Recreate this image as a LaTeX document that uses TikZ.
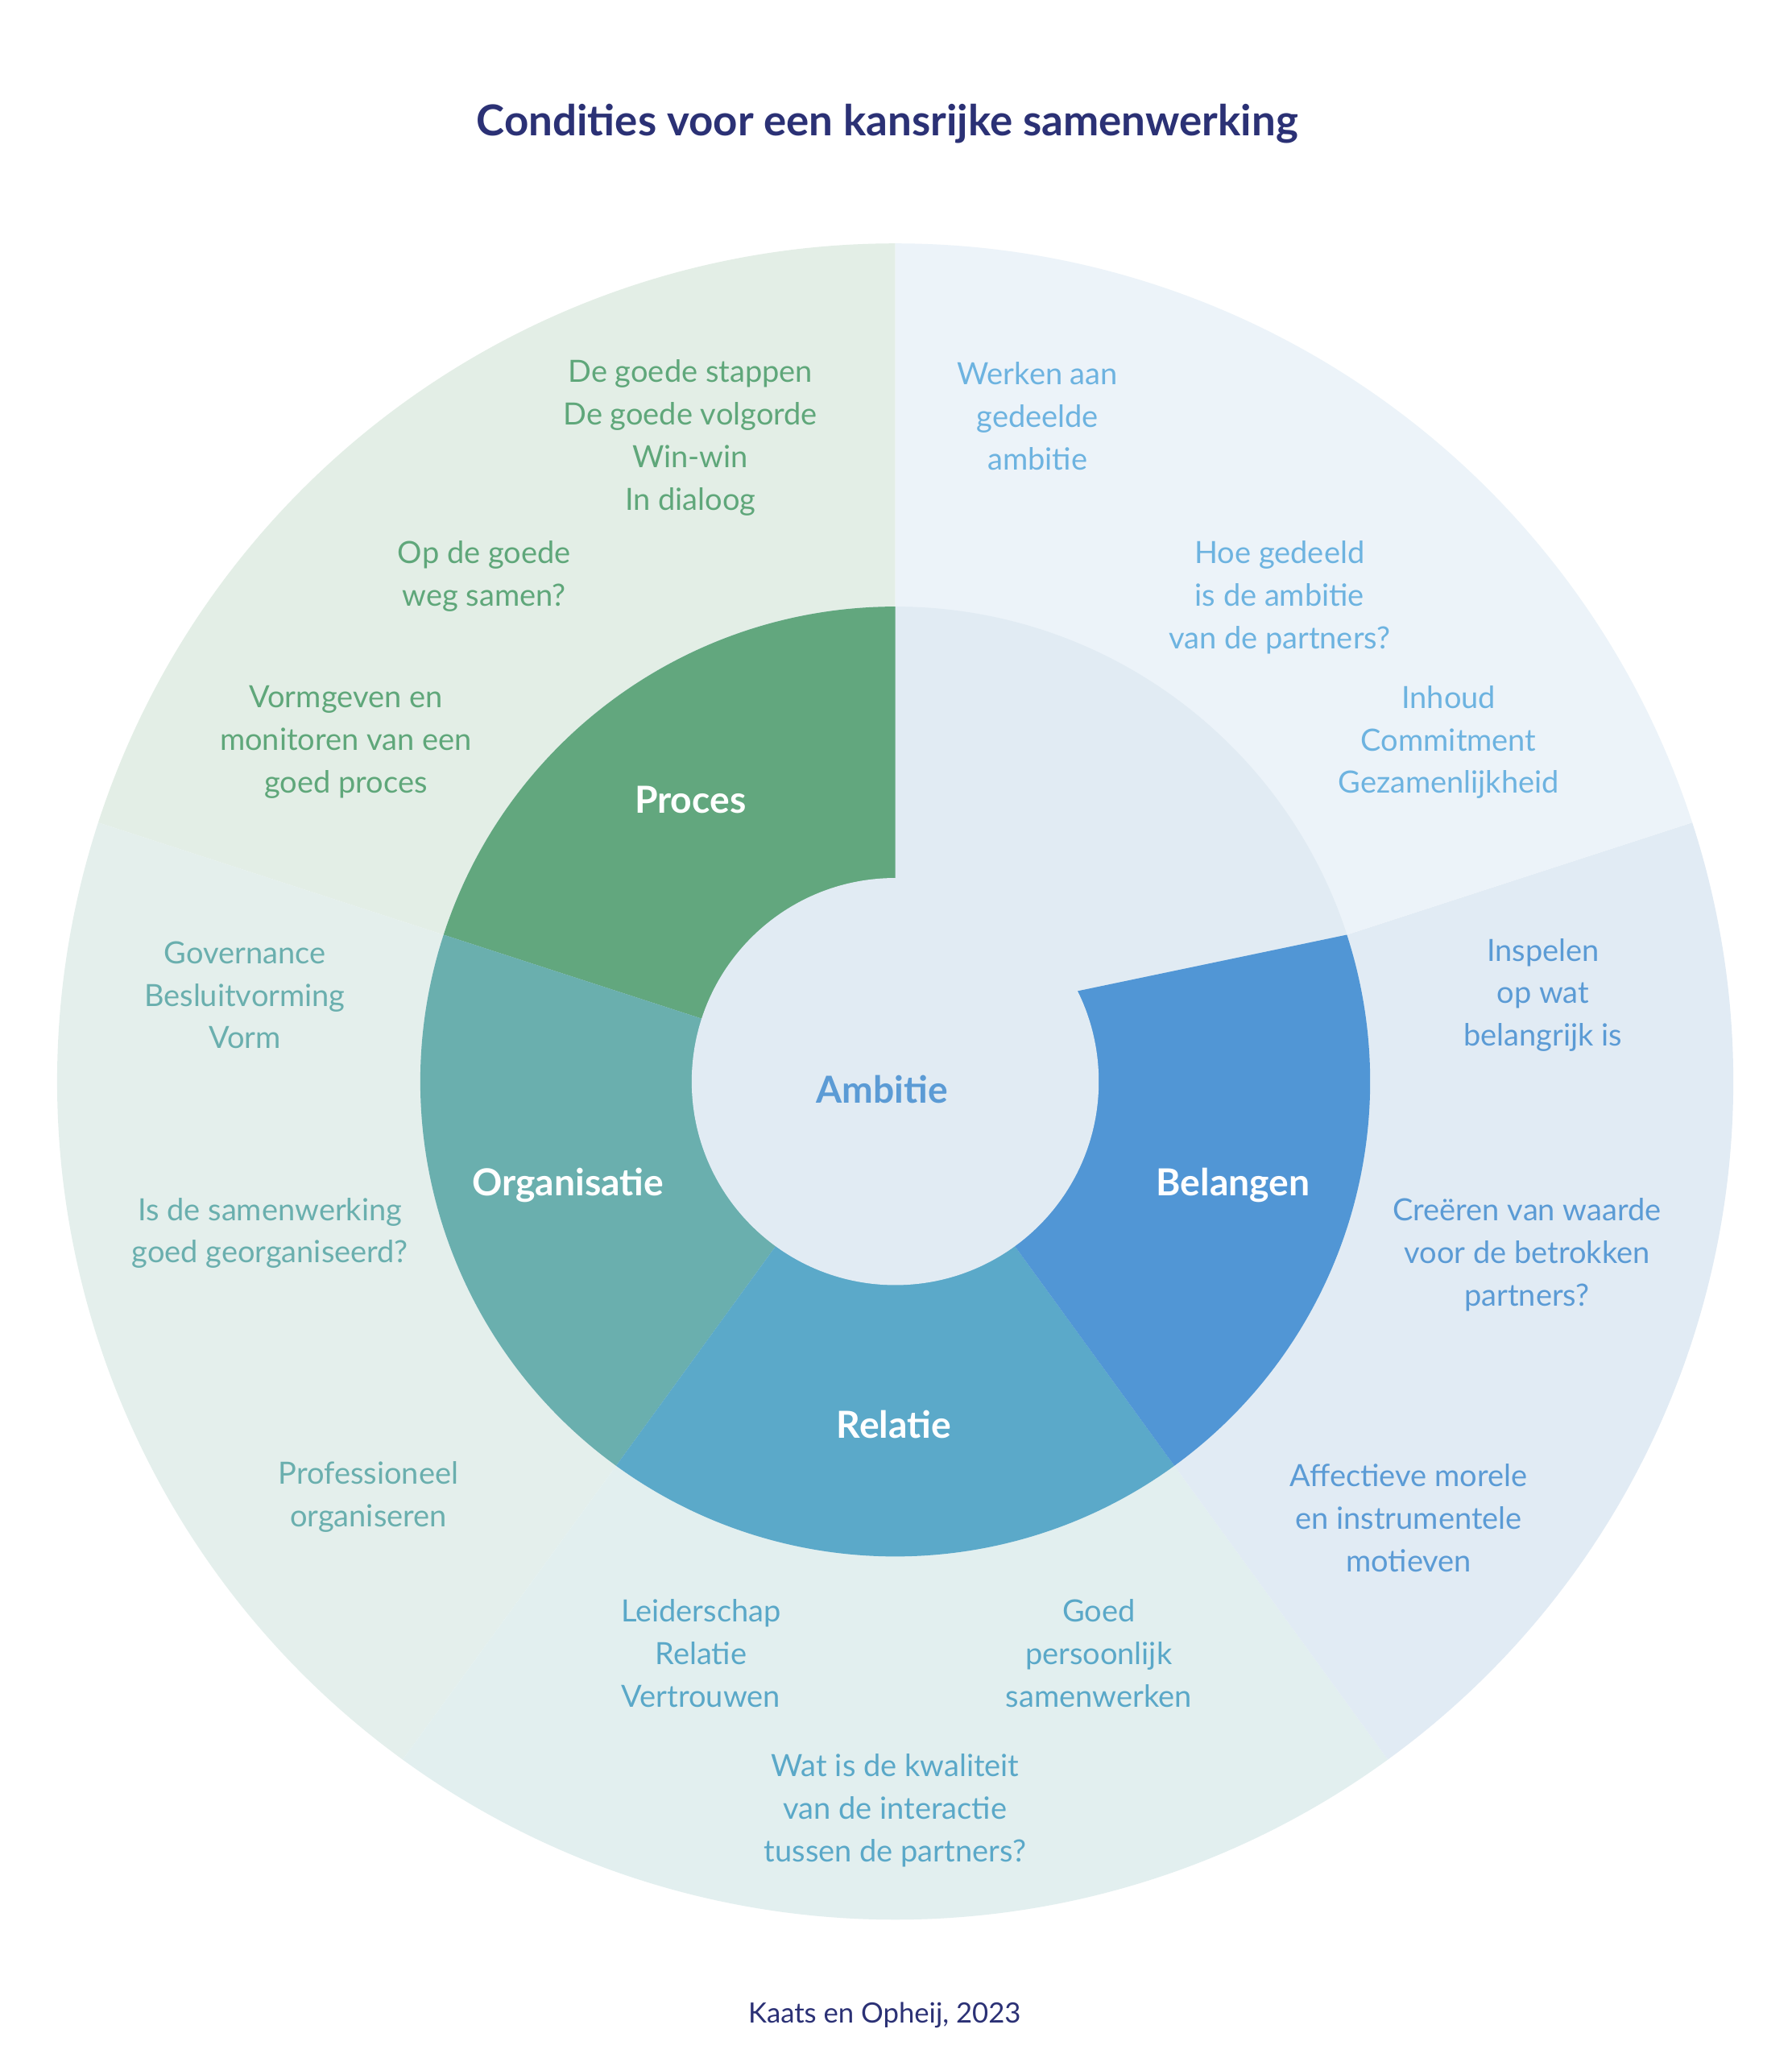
\documentclass[tikz,border=0pt]{standalone}
\usepackage{fontspec}
\setmainfont{Lato}
\definecolor{oP}{HTML}{E3EEE6}\definecolor{oA}{HTML}{ECF3F9}\definecolor{oB}{HTML}{E1EBF4}
\definecolor{oR}{HTML}{E2EFEF}\definecolor{oO}{HTML}{E4EFEC}
\definecolor{iP}{HTML}{62A77E}\definecolor{iO}{HTML}{6AAFAE}\definecolor{iR}{HTML}{5BA9C9}
\definecolor{iB}{HTML}{5196D5}\definecolor{cA}{HTML}{E1EBF3}
\definecolor{tP}{HTML}{5FA77A}\definecolor{tA}{HTML}{6DB3E0}\definecolor{tB}{HTML}{5B9BD5}
\definecolor{tR}{HTML}{5AA8C8}\definecolor{tO}{HTML}{6AAFAE}\definecolor{navy}{HTML}{2B3175}
\begin{document}
\begin{tikzpicture}[x=1pt,y=1pt,
 txt/.style={align=center,font=\fontsize{23}{32}\selectfont},
 lab/.style={font=\fontsize{28}{32}\selectfont\bfseries,text=white}]
\useasboundingbox[fill=white] (0,0) rectangle (1347,1550);
\coordinate (c) at (673,737);
\foreach \a/\col in {90/oP,162/oO,234/oR,306/oB,18/oA}
 \fill[\col] (c) ++(\a:630) arc[start angle=\a,delta angle=72,radius=630] -- (c) -- cycle;
\fill[cA] (c) circle[radius=357];
\foreach \a/\col in {90/iP,162/iO,234/iR}
 \fill[\col] (c) ++(\a:357) arc[start angle=\a,delta angle=72,radius=357] -- (c) -- cycle;
\fill[iB] (c) ++(306:357) arc[start angle=306,end angle=378,radius=357] -- (810,805) -- (c) -- cycle;
\fill[cA] (c) circle[radius=153];
\node[font=\fontsize{32}{36}\selectfont\bfseries,text=navy] (title) at (667,1457) {Condities voor een kansrijke samenwerking};
\node[font=\fontsize{21}{24}\selectfont,text=navy] (credit) at (665,35) {Kaats en Opheij, 2023};
\node[lab] (lp) at (519,949) {Proces};
\node[lab,text=tB] (la) at (663,731) {Ambitie};
\node[lab] (lo) at (427,659) {Organisatie};
\node[lab] (lb) at (927,659) {Belangen};
\node[lab] (lr) at (672,479) {Relatie};
\node[txt,text=tP] (p1) at (519,1221) {De goede stappen\\De goede volgorde\\Win-win\\In dialoog};
\node[txt,text=tP] (p2) at (364,1117) {Op de goede\\weg samen?};
\node[txt,text=tP] (p3) at (260,992) {Vormgeven en\\monitoren van een\\goed proces};
\node[txt,text=tA] (a1) at (780,1237) {Werken aan\\gedeelde\\ambitie};
\node[txt,text=tA] (a2) at (962,1101) {Hoe gedeeld\\is de ambitie\\van de partners?};
\node[txt,text=tA] (a3) at (1089,992) {Inhoud\\Commitment\\Gezamenlijkheid};
\node[txt,text=tB] (b1) at (1160,802) {Inspelen\\op wat\\belangrijk is};
\node[txt,text=tB] (b2) at (1148,607) {Creëren van waarde\\voor de betrokken\\partners?};
\node[txt,text=tB] (b3) at (1059,409) {Affectieve morele\\en instrumentele\\motieven};
\node[txt,text=tR] (r1) at (527,307) {Leiderschap\\Relatie\\Vertrouwen};
\node[txt,text=tR] (r2) at (826,307) {Goed\\persoonlijk\\samenwerken};
\node[txt,text=tR] (r3) at (673,189) {Wat is de kwaliteit\\van de interactie\\tussen de partners?};
\node[txt,text=tO] (o1) at (184,802) {Governance\\Besluitvorming\\Vorm};
\node[txt,text=tO] (o2) at (203,623) {Is de samenwerking\\goed georganiseerd?};
\node[txt,text=tO] (o3) at (277,425) {Professioneel\\organiseren};
\end{tikzpicture}
\end{document}
